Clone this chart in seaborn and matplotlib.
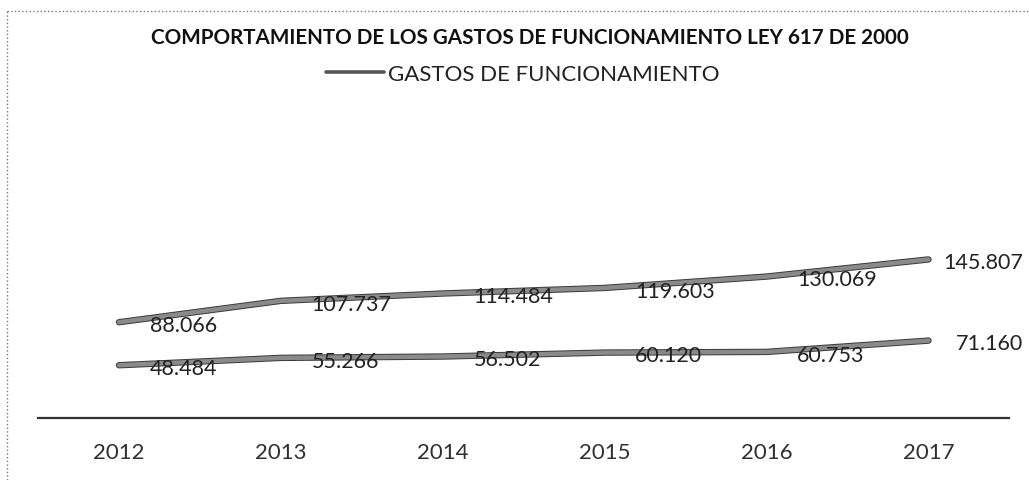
import matplotlib
matplotlib.use("Agg")
import matplotlib.pyplot as plt
import matplotlib.patheffects as pe
from matplotlib.lines import Line2D
import seaborn as sns
import pandas as pd

# datos
anios = ["2012", "2013", "2014", "2015", "2016", "2017"]
gastos = [88.066, 107.737, 114.484, 119.603, 130.069, 145.807]
limite = [48.484, 55.266, 56.502, 60.120, 60.753, 71.160]
etiquetas_gastos = ["88.066", "107.737", "114.484", "119.603", "130.069", "145.807"]
etiquetas_limite = ["48.484", "55.266", "56.502", "60.120", "60.753", "71.160"]

df = pd.DataFrame({
    "anio": anios * 2,
    "valor": gastos + limite,
    "serie": ["GASTOS DE FUNCIONAMIENTO"] * 6 + ["LIMITE LEY 617"] * 6,
})

sns.set_theme(style="white")
plt.rcParams["font.family"] = ["Lato", "DejaVu Sans"]

fig = plt.figure(figsize=(10.29, 4.81), dpi=100)
ax = fig.add_axes([0.037, 0.129, 0.944, 0.678])

sns.lineplot(data=df, x="anio", y="valor", hue="serie",
             palette=["#8a8a8a", "#8a8a8a"], linewidth=3.2, ax=ax,
             legend=False, sort=False)
for ln in ax.get_lines():
    ln.set_path_effects([pe.Stroke(linewidth=4.6, foreground="#3a3a3a"), pe.Normal()])

# etiquetas de datos a la derecha de cada punto
for serie, labels, ult in [(gastos, etiquetas_gastos, 11), (limite, etiquetas_limite, 20)]:
    for i, (v, t) in enumerate(zip(serie, labels)):
        dx = ult if i == len(serie) - 1 else 22
        ax.annotate(t, (i, v), xytext=(dx, -2), textcoords="offset points",
                    ha="left", va="center", fontsize=15.5, color="#222222")

ax.set_xlim(-0.5, 5.5)
ax.set_ylim(0, 300)
ax.set_yticks([])
ax.set_xlabel("")
ax.set_ylabel("")
ax.tick_params(axis="x", length=0, pad=17, labelsize=16, labelcolor="#303030")
for s in ["top", "right", "left"]:
    ax.spines[s].set_visible(False)
ax.spines["bottom"].set_color("#333333")
ax.spines["bottom"].set_linewidth(1.6)

fig.text(0.515, 0.922, "COMPORTAMIENTO DE LOS GASTOS DE FUNCIONAMIENTO LEY 617 DE 2000",
         ha="center", va="center", fontsize=14.9, fontweight="bold", color="#111111")

handle = Line2D([], [], color="#555555", linewidth=2.6)
fig.legend([handle], ["GASTOS DE FUNCIONAMIENTO"], loc="center",
           bbox_to_anchor=(0.508, 0.845), frameon=False, fontsize=16,
           handlelength=2.6, handletextpad=0.15, labelcolor="#222222")

# borde del cuadro (escaneado, solo arriba e izquierda visibles)
fig.add_artist(Line2D([0.007, 0.007], [0.0, 0.975], color="#777777", linewidth=1, linestyle=":"))
fig.add_artist(Line2D([0.007, 1.0], [0.975, 0.975], color="#777777", linewidth=1, linestyle=":"))

fig.savefig("out.png", dpi=100)
